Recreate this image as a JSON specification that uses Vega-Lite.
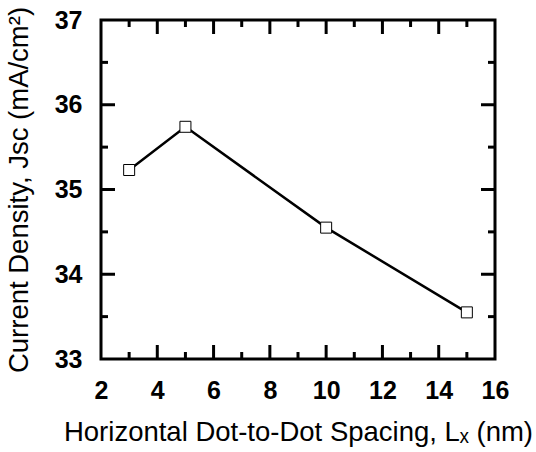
{
  "$schema": "https://vega.github.io/schema/vega-lite/v6.json",
  "width": 394,
  "height": 339,
  "autosize": {"type": "none"},
  "padding": {"left": 101, "top": 20, "right": 41, "bottom": 93},
  "config": {
    "view": {"stroke": "black", "strokeWidth": 3},
    "axis": {
      "domain": false, "ticks": false, "tickSize": 0, "grid": false,
      "labelFont": "Liberation Sans", "labelFontWeight": "bold", "labelFontSize": 25, "labelColor": "black",
      "titleFont": "Liberation Sans", "titleFontWeight": "normal", "titleFontSize": 27.5, "titleColor": "black"
    }
  },
  "datasets": {
    "pts": [
      {"Lx": 3, "Jsc": 35.23},
      {"Lx": 5, "Jsc": 35.74},
      {"Lx": 10, "Jsc": 34.55},
      {"Lx": 15, "Jsc": 33.55}
    ],
    "xt": [{"v": 3}, {"v": 4}, {"v": 5}, {"v": 6}, {"v": 7}, {"v": 8}, {"v": 9}, {"v": 10}, {"v": 11}, {"v": 12}, {"v": 13}, {"v": 14}, {"v": 15}],
    "yt": [{"v": 33.5}, {"v": 34}, {"v": 34.5}, {"v": 35}, {"v": 35.5}, {"v": 36}, {"v": 36.5}]
  },
  "data": {"name": "pts"},
  "layer": [
    {
      "mark": {"type": "line", "color": "black", "strokeWidth": 2.5},
      "encoding": {
        "x": {"field": "Lx", "type": "quantitative", "scale": {"domain": [2, 16], "nice": false, "zero": false},
          "axis": {"orient": "bottom", "title": "Horizontal Dot-to-Dot Spacing, Lₓ (nm)", "values": [2,4,6,8,10,12,14,16],
            "format": "d", "labelFlush": false, "labelPadding": 19, "titlePadding": 15}},
        "y": {"field": "Jsc", "type": "quantitative", "scale": {"domain": [33, 37], "nice": false, "zero": false},
          "axis": {"orient": "left", "title": "Current Density, Jsc (mA/cm²)", "values": [33,34,35,36,37],
            "format": "d", "labelFlush": false, "labelPadding": 19, "titlePadding": 21}}
      }
    },
    {
      "data": {"name": "xt"},
      "transform": [{"filter": "datum.v % 2 === 0"}],
      "mark": {"type": "tick", "orient": "vertical", "size": 14, "thickness": 3, "yOffset": -7, "color": "black", "opacity": 1},
      "encoding": {
        "x": {"field": "v", "type": "quantitative", "scale": {"domain": [2, 16], "nice": false, "zero": false}, "axis": null},
        "y": {"datum": 33, "type": "quantitative", "scale": {"domain": [33, 37], "nice": false, "zero": false}, "axis": null}
      }
    },
    {
      "data": {"name": "xt"},
      "transform": [{"filter": "datum.v % 2 !== 0"}],
      "mark": {"type": "tick", "orient": "vertical", "size": 7, "thickness": 3, "yOffset": -3.5, "color": "black", "opacity": 1},
      "encoding": {
        "x": {"field": "v", "type": "quantitative", "scale": {"domain": [2, 16], "nice": false, "zero": false}, "axis": null},
        "y": {"datum": 33, "type": "quantitative", "scale": {"domain": [33, 37], "nice": false, "zero": false}, "axis": null}
      }
    },
    {
      "data": {"name": "xt"},
      "transform": [{"filter": "datum.v % 2 === 0"}],
      "mark": {"type": "tick", "orient": "vertical", "size": 14, "thickness": 3, "yOffset": 7, "color": "black", "opacity": 1},
      "encoding": {
        "x": {"field": "v", "type": "quantitative", "scale": {"domain": [2, 16], "nice": false, "zero": false}, "axis": null},
        "y": {"datum": 37, "type": "quantitative", "scale": {"domain": [33, 37], "nice": false, "zero": false}, "axis": null}
      }
    },
    {
      "data": {"name": "xt"},
      "transform": [{"filter": "datum.v % 2 !== 0"}],
      "mark": {"type": "tick", "orient": "vertical", "size": 7, "thickness": 3, "yOffset": 3.5, "color": "black", "opacity": 1},
      "encoding": {
        "x": {"field": "v", "type": "quantitative", "scale": {"domain": [2, 16], "nice": false, "zero": false}, "axis": null},
        "y": {"datum": 37, "type": "quantitative", "scale": {"domain": [33, 37], "nice": false, "zero": false}, "axis": null}
      }
    },
    {
      "data": {"name": "yt"},
      "transform": [{"filter": "datum.v % 1 === 0"}],
      "mark": {"type": "tick", "orient": "horizontal", "size": 14, "thickness": 3, "xOffset": 7, "color": "black", "opacity": 1},
      "encoding": {
        "x": {"datum": 2, "type": "quantitative", "scale": {"domain": [2, 16], "nice": false, "zero": false}, "axis": null},
        "y": {"field": "v", "type": "quantitative", "scale": {"domain": [33, 37], "nice": false, "zero": false}, "axis": null}
      }
    },
    {
      "data": {"name": "yt"},
      "transform": [{"filter": "datum.v % 1 !== 0"}],
      "mark": {"type": "tick", "orient": "horizontal", "size": 7, "thickness": 3, "xOffset": 3.5, "color": "black", "opacity": 1},
      "encoding": {
        "x": {"datum": 2, "type": "quantitative", "scale": {"domain": [2, 16], "nice": false, "zero": false}, "axis": null},
        "y": {"field": "v", "type": "quantitative", "scale": {"domain": [33, 37], "nice": false, "zero": false}, "axis": null}
      }
    },
    {
      "data": {"name": "yt"},
      "transform": [{"filter": "datum.v % 1 === 0"}],
      "mark": {"type": "tick", "orient": "horizontal", "size": 14, "thickness": 3, "xOffset": -7, "color": "black", "opacity": 1},
      "encoding": {
        "x": {"datum": 16, "type": "quantitative", "scale": {"domain": [2, 16], "nice": false, "zero": false}, "axis": null},
        "y": {"field": "v", "type": "quantitative", "scale": {"domain": [33, 37], "nice": false, "zero": false}, "axis": null}
      }
    },
    {
      "data": {"name": "yt"},
      "transform": [{"filter": "datum.v % 1 !== 0"}],
      "mark": {"type": "tick", "orient": "horizontal", "size": 7, "thickness": 3, "xOffset": -3.5, "color": "black", "opacity": 1},
      "encoding": {
        "x": {"datum": 16, "type": "quantitative", "scale": {"domain": [2, 16], "nice": false, "zero": false}, "axis": null},
        "y": {"field": "v", "type": "quantitative", "scale": {"domain": [33, 37], "nice": false, "zero": false}, "axis": null}
      }
    },
    {
      "mark": {"type": "point", "shape": "square", "filled": true, "fill": "white", "stroke": "black", "strokeWidth": 1, "size": 121, "opacity": 1},
      "encoding": {
        "x": {"field": "Lx", "type": "quantitative", "scale": {"domain": [2, 16], "nice": false, "zero": false}, "axis": null},
        "y": {"field": "Jsc", "type": "quantitative", "scale": {"domain": [33, 37], "nice": false, "zero": false}, "axis": null}
      }
    }
  ],
  "resolve": {"axis": {"x": "independent", "y": "independent"}}
}
